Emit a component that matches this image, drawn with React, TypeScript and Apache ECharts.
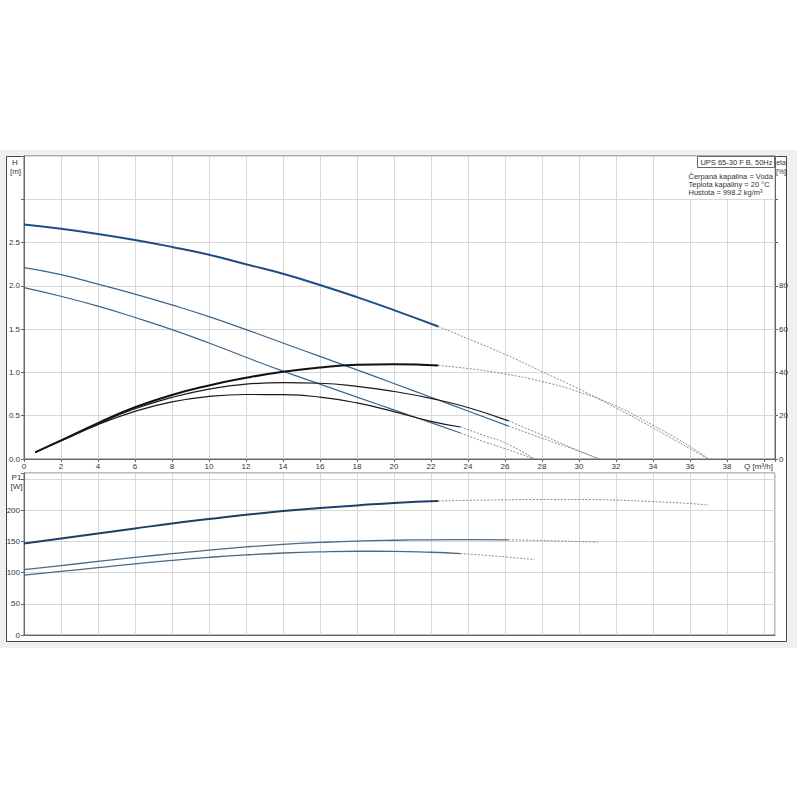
import React, { useEffect, useRef } from "react";
import * as echarts from "echarts";

// ---- Head curves H [m] vs Q [m3/h] ----
const h1Q = [0, 2, 4, 6, 8, 10, 12, 14, 16, 18, 20, 22.4];
const h1 = [2.71, 2.66, 2.6, 2.53, 2.45, 2.36, 2.25, 2.14, 2.01, 1.87, 1.72, 1.53];
const h1xQ = [22.4, 24, 26, 28, 30, 32, 34, 36, 37];
const h1x = [1.53, 1.39, 1.21, 1.01, 0.81, 0.59, 0.36, 0.12, 0];

const h2Q = [0, 2, 4, 6, 8, 10, 12, 14, 16, 18, 20, 22, 24, 26.2];
const h2 = [2.21, 2.13, 2.02, 1.905, 1.78, 1.645, 1.495, 1.34, 1.185, 1.03, 0.872, 0.714, 0.555, 0.38];
const h2xQ = [26.2, 28, 30, 31.1];
const h2x = [0.38, 0.24, 0.09, 0];

const h3Q = [0, 2, 4, 6, 8, 10, 12, 14, 16, 18, 20, 22, 23.6];
const h3 = [1.98, 1.88, 1.765, 1.635, 1.495, 1.34, 1.175, 1.015, 0.865, 0.715, 0.567, 0.42, 0.3];
const h3xQ = [23.6, 25, 26, 27.6];
const h3x = [0.3, 0.19, 0.12, 0];

// ---- Efficiency curves eta [%] ----
const e1Q = [0.6, 2, 4, 6, 8, 10, 12, 14, 16, 18, 20, 22.4];
const e1 = [3.1, 8.6, 16.6, 23.9, 29.6, 34.0, 37.5, 40.3, 42.3, 43.5, 43.8, 43.2];
const e1xQ = [22.4, 24, 26, 28, 30, 32, 34, 36, 37];
const e1x = [43.2, 41.8, 39.3, 35.8, 31.0, 24.5, 15.6, 5.8, 0];

const e2Q = [0.6, 2, 4, 6, 8, 10, 12, 14, 16, 18, 20, 22, 24, 26.2];
const e2 = [3.1, 8.5, 16.3, 23.2, 28.5, 32.3, 34.6, 35.3, 35.0, 33.6, 31.2, 28.0, 23.8, 17.6];
const e2xQ = [26.2, 28, 30, 31.1];
const e2x = [17.6, 11.1, 3.8, 0];

const e3Q = [0.6, 2, 4, 6, 8, 10, 12, 14, 16, 18, 20, 22, 23.6];
const e3 = [3.1, 8.3, 15.9, 22.0, 26.4, 28.9, 29.8, 29.7, 28.6, 25.9, 21.9, 17.4, 14.8];
const e3xQ = [23.6, 25, 26, 27.6];
const e3x = [14.8, 10.5, 7.5, 0];

// ---- Power curves P1 [W] ----
const p1Q = [0, 2, 4, 6, 8, 10, 12, 14, 16, 18, 20, 22.4];
const p1 = [147, 155, 163, 171, 179, 186, 193, 199, 204, 208, 212, 215];
const p1xQ = [22.4, 24, 26, 28, 30, 32, 34, 36, 37];
const p1x = [215, 216, 217, 217.5, 217.5, 216.5, 214, 211, 208.5];

const p2Q = [0, 2, 4, 6, 8, 10, 12, 14, 16, 18, 20, 22, 24, 26.2];
const p2 = [105, 111.5, 118, 124.5, 130.5, 136.3, 141.3, 145.4, 148.5, 150.8, 152.1, 152.8, 153, 152.7];
const p2xQ = [26.2, 28, 30, 31.1];
const p2x = [152.7, 151.6, 150, 149];

const p3Q = [0, 2, 4, 6, 8, 10, 12, 14, 16, 18, 20, 22, 23.6];
const p3 = [96, 102, 108, 114.3, 119.8, 124.6, 128.6, 131.6, 133.5, 134.4, 134.3, 132.8, 130.7];
const p3xQ = [23.6, 25, 26, 27.6];
const p3x = [130.7, 127.8, 125.4, 121];

const FONT = "Liberation Sans";

const pairs = (xs: number[], ys: number[]) => xs.map((x, i) => [x, ys[i]]);

function solid(xs: number[], ys: number[], xi: number, yi: number, color: string, width: number) {
  return {
    type: "line",
    xAxisIndex: xi,
    yAxisIndex: yi,
    data: pairs(xs, ys),
    showSymbol: false,
    symbol: "none",
    smooth: 0.5,
    lineStyle: { color, width },
    silent: true,
    z: 3,
  };
}
function dotted(xs: number[], ys: number[], xi: number, yi: number) {
  return {
    type: "line",
    xAxisIndex: xi,
    yAxisIndex: yi,
    data: pairs(xs, ys),
    showSymbol: false,
    symbol: "none",
    smooth: 0.5,
    lineStyle: { color: "#808080", width: 0.9, type: [2, 1.5] },
    silent: true,
    z: 2,
  };
}

const axisText = { fontSize: 8, color: "#333", fontFamily: FONT };
const gridLine = { lineStyle: { color: "#d8d8d8", width: 1 } };
const axisLineStyle = { lineStyle: { color: "#666", width: 1 } };

export default function App() {
  const ref = useRef<HTMLDivElement>(null);
  useEffect(() => {
    if (!ref.current) return;
    const chart = echarts.init(ref.current, undefined, { renderer: "svg" });
    const option: any = {
      animation: false,
      backgroundColor: "#ffffff",
      grid: [
        { left: 24, top: 156, width: 751, height: 303, show: true, borderColor: "#666", borderWidth: 1 },
        { left: 24, top: 473, width: 751, height: 162, show: true, borderColor: "#777", borderWidth: 1 },
      ],
      xAxis: [
        {
          gridIndex: 0,
          type: "value",
          min: 0,
          max: 40.6,
          interval: 2,
          axisLine: axisLineStyle,
          axisTick: { show: true, length: 3, lineStyle: { color: "#666" } },
          axisLabel: {
            ...axisText,
            margin: 3,
            formatter: (v: number) => (v <= 38.01 ? String(v) : ""),
          },
          splitLine: gridLine,
        },
        {
          gridIndex: 1,
          type: "value",
          min: 0,
          max: 40.6,
          interval: 2,
          axisLine: axisLineStyle,
          axisTick: { show: false },
          axisLabel: { show: false },
          splitLine: gridLine,
        },
      ],
      yAxis: [
        {
          gridIndex: 0,
          type: "value",
          position: "left",
          min: 0,
          max: 3.5,
          interval: 0.5,
          axisLine: { show: true, ...axisLineStyle },
          axisTick: { show: true, length: 3, lineStyle: { color: "#666" } },
          axisLabel: {
            ...axisText,
            margin: 4,
            formatter: (v: number) => (v <= 2.51 ? v.toFixed(1) : ""),
          },
          splitLine: gridLine,
        },
        {
          gridIndex: 0,
          type: "value",
          position: "right",
          min: 0,
          max: 140,
          interval: 20,
          axisLine: { show: true, ...axisLineStyle },
          axisTick: { show: true, length: 3, lineStyle: { color: "#666" } },
          axisLabel: {
            ...axisText,
            margin: 4,
            formatter: (v: number) => (v <= 80 ? String(v) : ""),
          },
          splitLine: { show: false },
        },
        {
          gridIndex: 1,
          type: "value",
          position: "left",
          min: 0,
          max: 260,
          interval: 50,
          axisLine: { show: true, ...axisLineStyle },
          axisTick: { show: true, length: 3, lineStyle: { color: "#666" } },
          axisLabel: {
            ...axisText,
            margin: 4,
            formatter: (v: number) => (v <= 200 ? String(v) : ""),
          },
          splitLine: gridLine,
        },
      ],
      series: [
        dotted(h1xQ, h1x, 0, 0),
        dotted(h2xQ, h2x, 0, 0),
        dotted(h3xQ, h3x, 0, 0),
        dotted(e1xQ, e1x, 0, 1),
        dotted(e2xQ, e2x, 0, 1),
        dotted(e3xQ, e3x, 0, 1),
        dotted(p1xQ, p1x, 1, 2),
        dotted(p2xQ, p2x, 1, 2),
        dotted(p3xQ, p3x, 1, 2),
        solid(h1Q, h1, 0, 0, "#1f4e82", 2),
        solid(h2Q, h2, 0, 0, "#3b6590", 1.2),
        solid(h3Q, h3, 0, 0, "#3b6590", 1.2),
        solid(e1Q, e1, 0, 1, "#111111", 2),
        solid(e2Q, e2, 0, 1, "#1a1a1a", 1.2),
        solid(e3Q, e3, 0, 1, "#1a1a1a", 1.2),
        solid(p1Q, p1, 1, 2, "#1e3f66", 2),
        solid(p2Q, p2, 1, 2, "#4b6a86", 1.3),
        solid(p3Q, p3, 1, 2, "#4b6a86", 1.3),
      ],
      graphic: [
        { type: "rect", z: -20, silent: true, shape: { x: 0, y: 150, width: 797, height: 498 }, style: { fill: "#f0f0f0" } },
        { type: "rect", z: -10, silent: true, shape: { x: 6.5, y: 156.5, width: 780, height: 485 }, style: { fill: "#ffffff", stroke: "#444", lineWidth: 1 } },
        { type: "rect", z: 4, silent: true, shape: { x: 689, y: 157, width: 85.5, height: 42 }, style: { fill: "#ffffff" } },
        { type: "rect", z: 5, silent: true, shape: { x: 697.5, y: 156.5, width: 77, height: 11 }, style: { fill: "#ffffff", stroke: "#666", lineWidth: 1 } },
        { type: "text", z: 6, silent: true, style: { text: "UPS 65-30 F B, 50Hz", x: 772.5, y: 162.5, align: "right", verticalAlign: "middle", fontSize: 7.5, fontFamily: FONT, fill: "#333" } },
        { type: "text", z: 6, silent: true, style: { text: "Čerpaná kapalina = Voda", x: 688.5, y: 176, align: "left", verticalAlign: "middle", fontSize: 7.5, fontFamily: FONT, fill: "#333" } },
        { type: "text", z: 6, silent: true, style: { text: "Teplota kapaliny = 20 °C", x: 688.5, y: 184.3, align: "left", verticalAlign: "middle", fontSize: 7.5, fontFamily: FONT, fill: "#333" } },
        { type: "text", z: 6, silent: true, style: { text: "Hustota = 998.2 kg/m³", x: 688.5, y: 192.5, align: "left", verticalAlign: "middle", fontSize: 7.5, fontFamily: FONT, fill: "#333" } },
        { type: "text", z: 6, silent: true, style: { text: "eta", x: 781, y: 162, align: "center", verticalAlign: "middle", fontSize: 7, fontFamily: FONT, fill: "#333" } },
        { type: "text", z: 6, silent: true, style: { text: "[%]", x: 781, y: 171, align: "center", verticalAlign: "middle", fontSize: 7, fontFamily: FONT, fill: "#333" } },
        { type: "text", z: 6, silent: true, style: { text: "H", x: 15, y: 162.5, align: "center", verticalAlign: "middle", fontSize: 8, fontFamily: FONT, fill: "#333" } },
        { type: "text", z: 6, silent: true, style: { text: "[m]", x: 15.5, y: 171, align: "center", verticalAlign: "middle", fontSize: 8, fontFamily: FONT, fill: "#333" } },
        { type: "text", z: 6, silent: true, style: { text: "P1", x: 16.5, y: 477.5, align: "center", verticalAlign: "middle", fontSize: 8, fontFamily: FONT, fill: "#333" } },
        { type: "text", z: 6, silent: true, style: { text: "[W]", x: 16.5, y: 486, align: "center", verticalAlign: "middle", fontSize: 8, fontFamily: FONT, fill: "#333" } },
        { type: "text", z: 6, silent: true, style: { text: "Q [m³/h]", x: 758.5, y: 466.5, align: "center", verticalAlign: "middle", fontSize: 8, fontFamily: FONT, fill: "#333" } },
      ],
    };
    chart.setOption(option);
    return () => chart.dispose();
  }, []);
  return <div ref={ref} style={{ position: "fixed", left: 0, top: 0, width: 800, height: 800 }} />;
}
